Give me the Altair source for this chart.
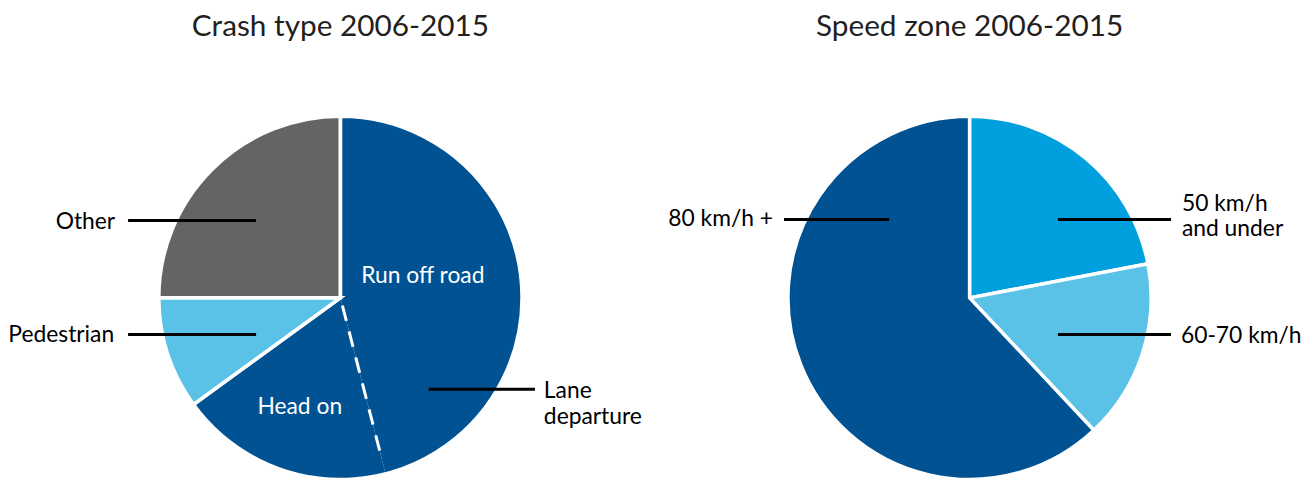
import altair as alt
import pandas as pd

# ---- data ----
crash_types = ["Run off road", "Head on", "Pedestrian", "Other"]
crash_groups = ["Lane departure", "Lane departure", "Pedestrian", "Other"]
crash_share = [46, 19, 10, 25]
crash_colors = ["#005293", "#005293", "#5bc2e7", "#636466"]

speed_zones = ["50 km/h and under", "60-70 km/h", "80 km/h +"]
speed_share = [22, 16, 62]
speed_colors = ["#00a0df", "#5bc2e7", "#005293"]

# ---- layout ----
FONT = "Lato"
LABEL_SIZE = 23
R = 183
WL, WR, H = 668, 588, 500
CXL, CXR, CY = WL / 2, WR / 2, H / 2

crash_df = pd.DataFrame({"category": crash_types, "group": crash_groups,
                         "value": crash_share, "idx": list(range(len(crash_types)))})
speed_df = pd.DataFrame({"category": speed_zones, "value": speed_share,
                         "idx": list(range(len(speed_zones)))})
one = pd.DataFrame({"k": [0]})


def text(t, dx, dy, cx, align, color="#000000", size=LABEL_SIZE):
    return alt.Chart(one).mark_text(
        align=align, baseline="middle", font=FONT, fontSize=size, color=color,
        lineHeight=26,
    ).encode(x=alt.value(cx + dx), y=alt.value(CY + dy), text=alt.value(t))


def leader(dx1, dx2, dy, cx):
    return alt.Chart(one).mark_rule(color="black", strokeWidth=3).encode(
        x=alt.value(cx + dx1), x2=alt.value(cx + dx2), y=alt.value(CY + dy))


# ---- left pie ----
base_l = alt.Chart(crash_df)
arcs_l = base_l.mark_arc(outerRadius=R).encode(
    theta=alt.Theta("value:Q", stack=True),
    order=alt.Order("idx:Q"),
    color=alt.Color("category:N", scale=alt.Scale(domain=crash_types, range=crash_colors), legend=None),
)
outline_l = base_l.transform_aggregate(
    value="sum(value)", gidx="min(idx)", groupby=["group"]
).mark_arc(outerRadius=R, fillOpacity=0, stroke="white", strokeWidth=3.5).encode(
    theta=alt.Theta("value:Q", stack=True),
    order=alt.Order("gidx:Q"),
)
dash_l = base_l.transform_window(
    cum="sum(value)", sort=[alt.SortField("idx")], frame=[None, 0]
).transform_joinaggregate(total="sum(value)").transform_filter(
    alt.datum.category == "Run off road"
).transform_calculate(
    a="2*PI*datum.cum/datum.total",
    x1=f"{CXL} + 8*sin(datum.a)", y1=f"{CY} - 8*cos(datum.a)",
    x2=f"{CXL} + 168*sin(datum.a)", y2=f"{CY} - 168*cos(datum.a)",
).mark_rule(color="white", strokeWidth=3, strokeDash=[16, 11]).encode(
    x=alt.X("x1:Q", scale=None), y=alt.Y("y1:Q", scale=None),
    x2="x2:Q", y2="y2:Q",
)

left = alt.layer(
    arcs_l, outline_l, dash_l,
    leader(-214, -85, -78, CXL), text("Other", -227, -76, CXL, "right"),
    leader(-214, -85, 37, CXL), text("Pedestrian", -228, 37, CXL, "right"),
    text("Run off road", 83, -22, CXL, "center", color="white"),
    text("Head on", -41, 110, CXL, "center", color="white"),
    leader(89, 196, 92, CXL), text(["Lane", "departure"], 205, 94, CXL, "left"),
).properties(width=WL, height=H, title=alt.Title("Crash type 2006-2015"))

# ---- right pie ----
arcs_r = alt.Chart(speed_df).mark_arc(outerRadius=R, stroke="white", strokeWidth=3.5).encode(
    theta=alt.Theta("value:Q", stack=True),
    order=alt.Order("idx:Q"),
    color=alt.Color("category:N", scale=alt.Scale(domain=speed_zones, range=speed_colors), legend=None),
)
right = alt.layer(
    arcs_r,
    leader(-187, -81, -79, CXR), text("80 km/h +", -198, -79, CXR, "right"),
    leader(89, 203, -79, CXR), text(["50 km/h", "and under"], 214, -95, CXR, "left"),
    leader(89, 203, 37, CXR), text("60-70 km/h", 213, 38, CXR, "left"),
).properties(width=WR, height=H, title=alt.Title("Speed zone 2006-2015"))

chart = alt.hconcat(left, right, spacing=6, bounds="flush").resolve_scale(
    color="independent", theta="independent"
).properties(
    padding={"top": 2, "left": 0, "right": 0, "bottom": 0}
).configure_view(stroke=None).configure_title(
    font=FONT, fontSize=30, fontWeight="normal", color="#231f20", anchor="middle", offset=8
)

chart.save("out.html", embed_options={"renderer": "svg", "actions": False})
